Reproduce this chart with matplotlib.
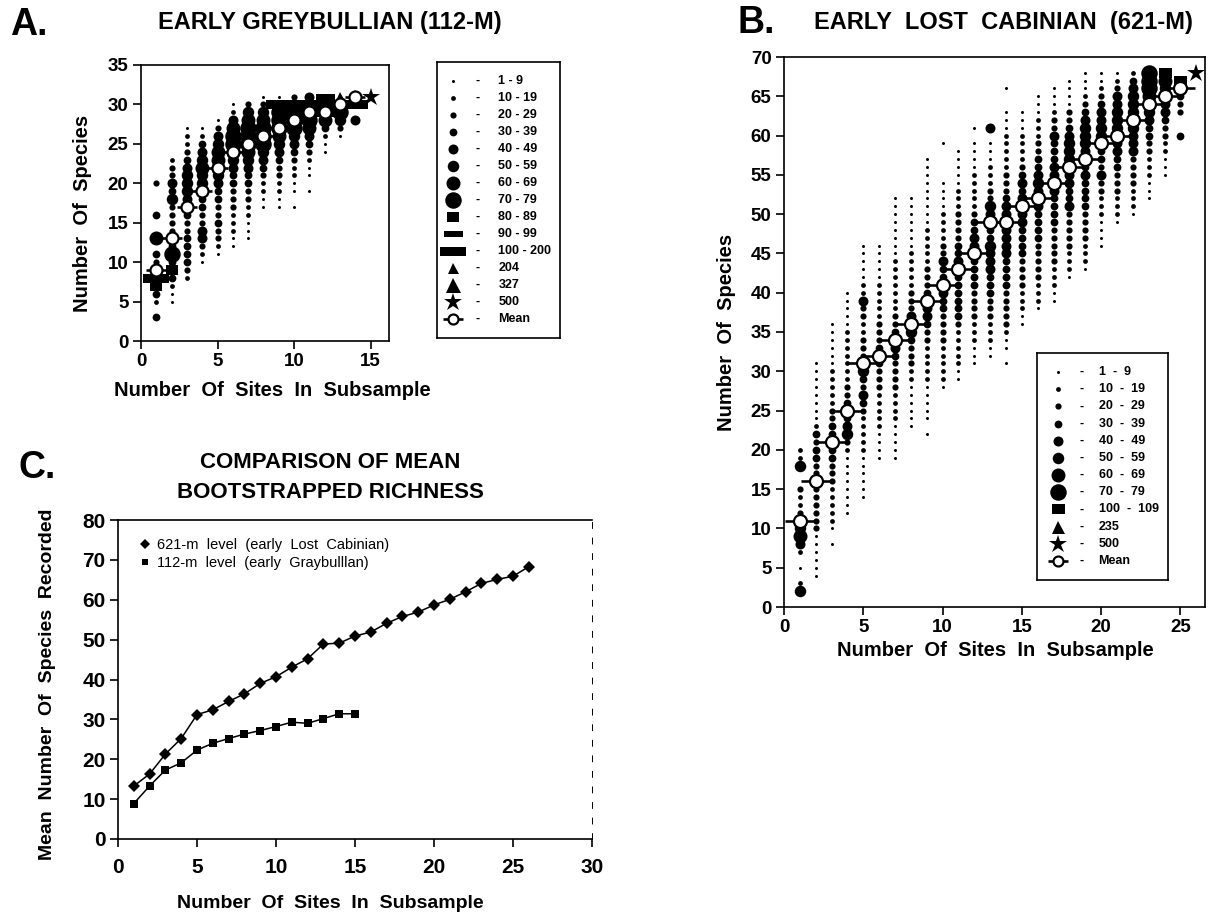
import matplotlib
matplotlib.use("Agg")
import matplotlib.pyplot as plt
from matplotlib.lines import Line2D

plt.rcParams['font.family'] = ['Liberation Sans', 'DejaVu Sans']
plt.rcParams['font.weight'] = 'bold'

W, H = 1217, 918
PT = 0.72  # points per pixel at dpi 100

# ---- A. early Greybullian (112-m): one column per subsample size ----
# each code string runs upward from a_low, one character per species count
# 0 = none, 1..8 = dots (1-9 ... 70-79), a = 80-89, b = 90-99, c = 100-200,
# t = 204, T = 327
a_sites = list(range(1, 15))
a_low = [3, 5, 8, 10, 11, 12, 13, 17, 17, 17, 19, 24, 26, 28]
a_codes = [
    "4024ac634070040003",
    "1124a48443333645332",
    "23444433455666543221",
    "123553344566765421",
    "123343344567776531",
    "1122233344567887521",
    "111223344567888763",
    "112234568887631",
    "1122334567888c1",
    "101122345688cc3",
    "1011234578cc5",
    "11247ccb",
    "1368ct",
    "50cT",
]
a_means = [9, 13, 17, 19, 22, 24, 25, 26, 27, 28, 29, 29, 30, 31]
a_all_sites = 15
a_all_species = 31

# ---- B. early Lost Cabinian (621-m) ----
# a = 100-109, t = 235
b_sites = list(range(1, 26))
b_low = [2, 4, 8, 12, 14, 19, 19, 23, 22, 28, 29, 31, 32, 31, 36, 38, 39, 42,
         43, 46, 49, 50, 52, 55, 60]
b_codes = [
    "6201025765322300622",
    "1111113333333334434211111111",
    "10122222333444443322222111111",
    "11111111236545433222222211111",
    "111111222223453465333223352211111",
    "1111222223334443332222211111",
    "1111122223333455433222222211111111",
    "111111223334655333222221111111",
    "101111122222334555433322222111111111",
    "12222233334455445332222111100001",
    "112222234444445544333322211111",
    "1112223333444455544322222111101",
    "112223334445556445563322211105",
    "101123333344445555555433322222111001",
    "1122233334444555545432222111",
    "1222333334444555654433222111",
    "1122233333444455554445332111",
    "12223333354455566654331111",
    "12223333444454556665432111",
    "11112223353445665543211",
    "12223334455566655321",
    "1222333355566666542",
    "11122233445667888",
    "1112233455667a",
    "4003345a",
]
b_means = [11, 16, 21, 25, 31, 32, 34, 36, 39, 41, 43, 45, 49, 49, 51, 52, 54,
           56, 57, 59, 60, 62, 64, 65, 66]
b_all_sites = 26
b_all_species = 68

# ---- C. mean bootstrapped richness ----
c_sites_621 = list(range(1, 27))
c_mean_621 = [13.3, 16.3, 21.3, 25.2, 31.2, 32.4, 34.5, 36.4, 39.0, 40.7, 43.1,
              45.2, 48.9, 49.1, 50.9, 51.9, 54.1, 55.8, 56.9, 58.7, 60.1, 62.0,
              64.1, 65.1, 65.9, 68.3]
c_sites_112 = list(range(1, 16))
c_mean_112 = [8.9, 13.3, 17.3, 19.1, 22.3, 24.0, 25.2, 26.3, 27.2, 28.2, 29.3,
              29.0, 30.2, 31.4, 31.4]

a_key_codes = ['1', '2', '3', '4', '5', '6', '7', '8', 'a', 'b', 'c', 't', 'T', 's', 'm']
a_key_labels = ['1 - 9', '10 - 19', '20 - 29', '30 - 39', '40 - 49', '50 - 59',
                '60 - 69', '70 - 79', '80 - 89', '90 - 99', '100 - 200', '204',
                '327', '500', 'Mean']
b_key_codes = ['1', '2', '3', '4', '5', '6', '7', '8', 'a', 't', 's', 'm']
b_key_labels = ['1  -  9', '10  -  19', '20  -  29', '30  -  39', '40  -  49',
                '50  -  59', '60  -  69', '70  -  79', '100  -  109', '235',
                '500', 'Mean']


def rect(w, h):
    return [(-w / 2, -h / 2), (w / 2, -h / 2), (w / 2, h / 2), (-w / 2, h / 2)]


dots = {'1': 3.0, '2': 4.8, '3': 6.2, '4': 7.8, '5': 10.0, '6': 11.5, '7': 14.0, '8': 16.5}
a_shapes = {k: ('o', v) for k, v in dots.items()}
a_shapes.update({'a': (rect(12, 10), 12), 'b': (rect(19, 6), 19),
                 'c': (rect(26, 9), 26), 't': ('^', 11), 'T': ('^', 15),
                 's': ('*', 19)})
b_shapes = {k: ('o', v) for k, v in dots.items()}
b_shapes.update({'a': (rect(13, 10), 13), 't': ('^', 13), 's': ('*', 19)})

fig = plt.figure(figsize=(W / 100, H / 100), dpi=100)


def box(l, t, r, b):
    return [l / W, 1 - b / H, (r - l) / W, (b - t) / H]


def ftext(x, y, s, **kw):
    fig.text(x / W, 1 - y / H, s, **kw)


def style_axes(ax, fs):
    for sp in ax.spines.values():
        sp.set_linewidth(1.2)
    ax.tick_params(direction='out', length=6, width=1.2, labelsize=fs, pad=3)
    for lab in ax.get_xticklabels() + ax.get_yticklabels():
        lab.set_fontweight('bold')


def draw_columns(ax, sites, lows, codes, shapes):
    groups = {}
    for x, low, col in zip(sites, lows, codes):
        for k, ch in enumerate(col):
            if ch == '0':
                continue
            xs, ys = groups.setdefault(ch, ([], []))
            xs.append(x)
            ys.append(low + k)
    for ch, (xs, ys) in groups.items():
        m, px = shapes[ch]
        ax.plot(xs, ys, ls='none', marker=m, ms=px * PT, color='k', mew=0,
                zorder=3, clip_on=False)


def draw_means(ax, xs, ys, bar_px, circ_px):
    ax.plot(xs, ys, ls='none', marker='_', ms=bar_px * PT, mew=2.6 * PT,
            color='k', zorder=4, clip_on=False)
    ax.plot(xs, ys, ls='none', marker='o', ms=circ_px * PT, mfc='white',
            mec='k', mew=2.2 * PT, zorder=5, clip_on=False)


def draw_key(rect_, codes, labels, shapes, xm, xd, xt, fs):
    ax = fig.add_axes(rect_)
    ax.set_xlim(0, 1)
    ax.set_ylim(len(codes) + 0.1, -1.1)
    ax.set_xticks([])
    ax.set_yticks([])
    for sp in ax.spines.values():
        sp.set_linewidth(1.2)
    for i, (c, lab) in enumerate(zip(codes, labels)):
        if c == 'm':
            draw_means(ax, [xm], [i], 20, 10)
        else:
            m, px = shapes[c]
            ax.plot([xm], [i], ls='none', marker=m, ms=px * PT, color='k', mew=0)
        ax.text(xd, i, '-', ha='center', va='center', fontsize=fs, fontweight='bold')
        ax.text(xt, i, lab, ha='left', va='center', fontsize=fs, fontweight='bold')


# ---------------- panel A ----------------
axA = fig.add_axes(box(141, 65, 389, 341))
draw_columns(axA, a_sites, a_low, a_codes, a_shapes)
draw_means(axA, a_sites, a_means, 20, 12)
axA.plot([a_all_sites], [a_all_species], ls='none', marker='*', ms=19 * PT,
         color='k', mew=0, zorder=6, clip_on=False)
axA.set_xlim(0, 16.2)
axA.set_ylim(0, 35)
axA.set_xticks([0, 5, 10, 15])
axA.set_yticks(range(0, 36, 5))
style_axes(axA, 13.5)
draw_key(box(437, 62, 560, 338), a_key_codes, a_key_labels, a_shapes,
         0.13, 0.33, 0.5, 9)

ftext(10, 25, 'A.', fontsize=27, fontweight='black', va='center', ha='left')
ftext(330, 23, 'EARLY GREYBULLIAN (112-M)', fontsize=17, fontweight='bold',
      ha='center', va='center')
ftext(82, 213, 'Number  Of  Species', fontsize=14.5, fontweight='bold',
      rotation=90, ha='center', va='center')
ftext(272, 390, 'Number  Of  Sites  In  Subsample', fontsize=14.5,
      fontweight='bold', ha='center', va='center')

# ---------------- panel B ----------------
axB = fig.add_axes(box(784, 57, 1205, 607))
draw_columns(axB, b_sites, b_low, b_codes, b_shapes)
draw_means(axB, b_sites, b_means, 30, 13)
axB.plot([b_all_sites], [b_all_species], ls='none', marker='*', ms=19 * PT,
         color='k', mew=0, zorder=6, clip_on=False)
axB.set_xlim(0, 26.55)
axB.set_ylim(0, 70)
axB.set_xticks(range(0, 26, 5))
axB.set_yticks(range(0, 71, 5))
style_axes(axB, 13.5)
draw_key(box(1037, 353, 1168, 580), b_key_codes, b_key_labels, b_shapes,
         0.16, 0.34, 0.47, 9)

ftext(738, 23, 'B.', fontsize=27, fontweight='black', va='center', ha='left')
ftext(1003, 23, 'EARLY  LOST  CABINIAN  (621-M)', fontsize=17,
      fontweight='bold', ha='center', va='center')
ftext(726, 332, 'Number  Of  Species', fontsize=14.5, fontweight='bold',
      rotation=90, ha='center', va='center')
ftext(995, 650, 'Number  Of  Sites  In  Subsample', fontsize=14.5,
      fontweight='bold', ha='center', va='center')

# ---------------- panel C ----------------
axC = fig.add_axes(box(118, 520, 592, 839))
axC.plot(c_sites_621, c_mean_621, color='k', lw=1.1, marker='D', ms=6.2,
         mew=0, clip_on=False)
axC.plot(c_sites_112, c_mean_112, color='k', lw=1.1, marker='s', ms=5.6,
         mew=0, clip_on=False)
axC.set_xlim(0, 30)
axC.set_ylim(0, 80)
axC.set_xticks(range(0, 31, 5))
axC.set_yticks(range(0, 81, 10))
style_axes(axC, 15)
axC.spines['right'].set_linestyle((0, (6, 10)))
axC.spines['right'].set_linewidth(0.7)
axC.tick_params(axis='x', pad=8)
handles = [Line2D([], [], ls='none', marker='D', ms=5.5, color='k', mew=0),
           Line2D([], [], ls='none', marker='s', ms=4.5, color='k', mew=0)]
axC.legend(handles, ['621-m  level  (early  Lost  Cabinian)',
                     '112-m  level  (early  Graybulllan)'],
           loc='upper left', bbox_to_anchor=(0.02, 0.985), frameon=False,
           handlelength=0.6, handletextpad=0.5, labelspacing=0.3,
           prop={'size': 10.5, 'weight': 'normal'})

ftext(18, 468, 'C.', fontsize=27, fontweight='black', va='center', ha='left')
ftext(330, 462, 'COMPARISON OF MEAN', fontsize=16, fontweight='bold',
      ha='center', va='center')
ftext(330, 492, 'BOOTSTRAPPED RICHNESS', fontsize=16, fontweight='bold',
      ha='center', va='center')
ftext(48, 684, 'Mean  Number  Of  Species  Recorded', fontsize=14,
      fontweight='bold', rotation=90, ha='center', va='center')
ftext(330, 903, 'Number  Of  Sites  In  Subsample', fontsize=14,
      fontweight='bold', ha='center', va='center')

fig.savefig('out.png', dpi=100)
